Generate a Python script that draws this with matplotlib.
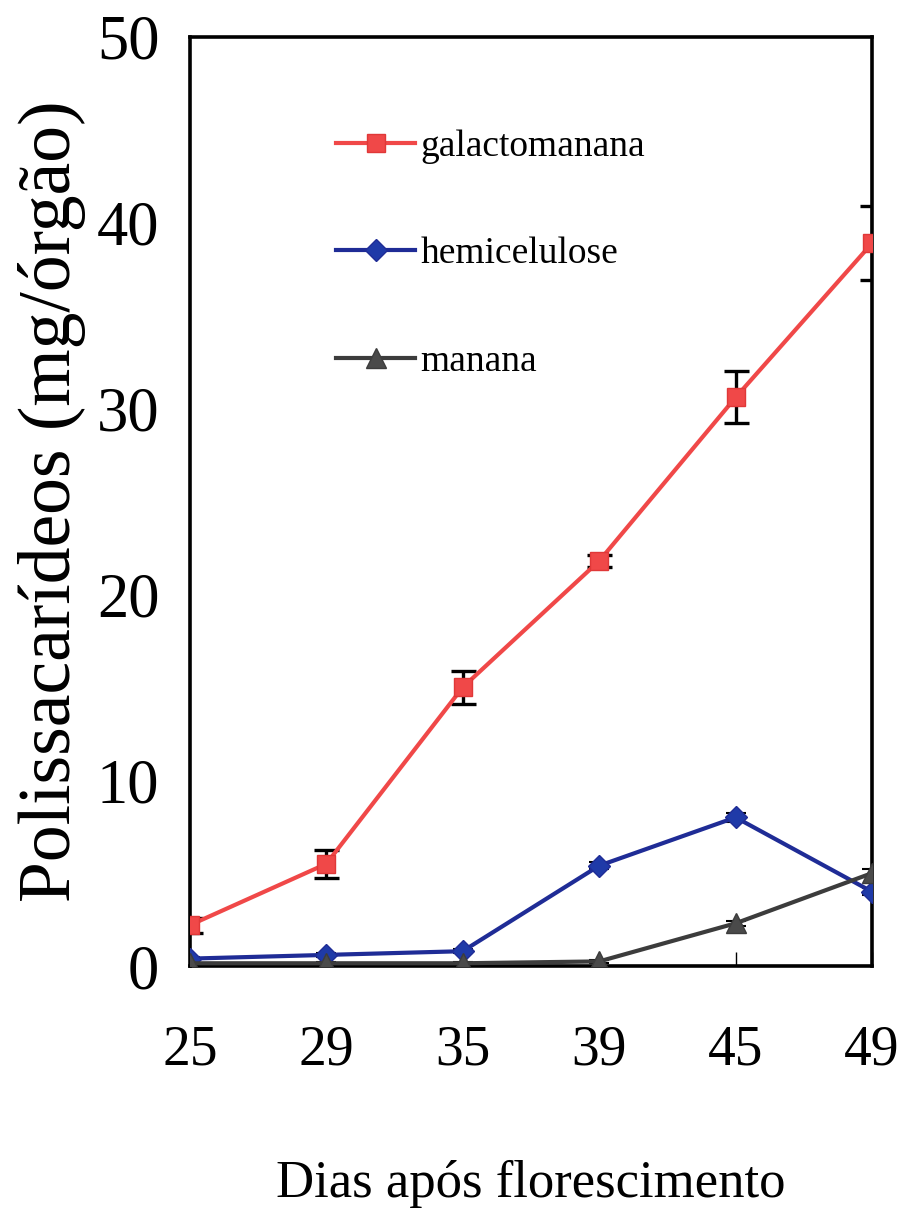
import numpy as np
import matplotlib.pyplot as plt

# dias apos florescimento
dias = ['25', '29', '35', '39', '45', '49']

galacto = [2.2, 5.5, 15.0, 21.8, 30.6, 38.9]
galacto_err = [0.4, 0.75, 0.9, 0.3, 1.4, 2.0]
hemi = [0.4, 0.6, 0.8, 5.4, 8.0, 4.0]
hemi_err = [0.1, 0.1, 0.1, 0.2, 0.25, 0.2]
manana = [0.15, 0.15, 0.15, 0.25, 2.3, 5.0]
manana_err = [0.05, 0.05, 0.05, 0.1, 0.15, 0.2]

plt.rcParams['font.family'] = ['Liberation Serif', 'DejaVu Serif']

fig = plt.figure(figsize=(9.04, 12.21), dpi=100)
ax = fig.add_axes([0.210, 0.2088, 0.7546, 0.7609])

x = np.arange(len(dias))

ax.errorbar(x, galacto, yerr=galacto_err, fmt='none', ecolor='black',
            elinewidth=2.4, capsize=9, capthick=2.4, zorder=2)
ax.errorbar(x, hemi, yerr=hemi_err, fmt='none', ecolor='black',
            elinewidth=1.5, capsize=7, capthick=1.5, zorder=2)
ax.errorbar(x, manana, yerr=manana_err, fmt='none', ecolor='black',
            elinewidth=1.5, capsize=7, capthick=1.5, zorder=2)

ax.plot(x, galacto, color='#f04848', lw=3.0, marker='s', ms=13,
        mfc='#f04848', mec='#e03838', label='galactomanana', zorder=3)
ax.plot(x, hemi, color='#1f2c96', lw=3.0, marker='D', ms=11,
        mfc='#1f3aa8', mec='#1f2c96', label='hemicelulose', zorder=3)
ax.plot(x, manana, color='#3c3c3c', lw=3.0, marker='^', ms=14,
        mfc='#4a4a4a', mec='#3c3c3c', label='manana', zorder=3)

ax.set_xlim(0, 5)
ax.set_ylim(0, 50)
ax.set_xticks(x)
ax.set_xticklabels(dias)
ax.set_yticks([0, 10, 20, 30, 40, 50])

ax.tick_params(axis='x', direction='in', length=10, width=1, pad=42, labelsize=40)
ax.tick_params(axis='y', length=0, pad=22, labelsize=45)

for s in ax.spines.values():
    s.set_linewidth(2.6)

ax.set_ylabel('Polissacarídeos (mg/órgão)', fontsize=53, labelpad=8)
ax.set_xlabel('Dias após florescimento', fontsize=38, labelpad=60)

leg = ax.legend(loc='upper left', bbox_to_anchor=(0.165, 0.937), frameon=False,
                fontsize=27, labelspacing=1.95, handlelength=2.1,
                handletextpad=0.15)

fig.savefig('out.png', dpi=100)
